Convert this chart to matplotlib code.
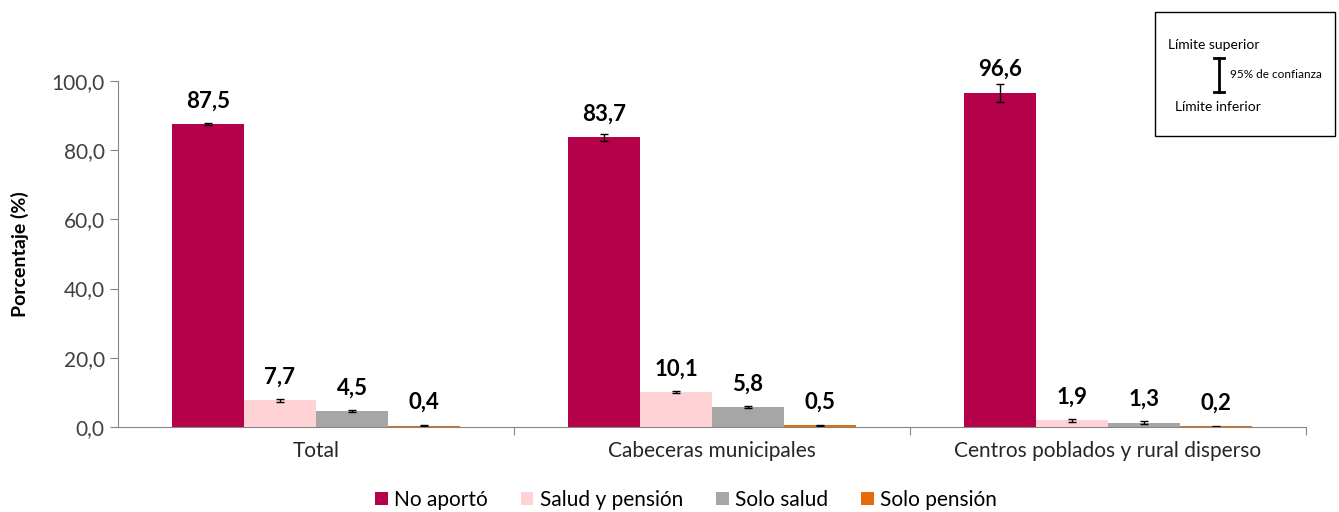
import numpy as np
import matplotlib.pyplot as plt
from matplotlib.patches import Rectangle

plt.rcParams['font.family'] = ['Lato', 'DejaVu Sans']

categorias = ['Total', 'Cabeceras municipales', 'Centros poblados y rural disperso']
series = ['No aportó', 'Salud y pensión', 'Solo salud', 'Solo pensión']
colores = ['#b5004a', '#ffd3d6', '#a6a6a6', '#e46c0a']

no_aporto = [87.5, 83.7, 96.6]
salud_pension = [7.7, 10.1, 1.9]
solo_salud = [4.5, 5.8, 1.3]
solo_pension = [0.4, 0.5, 0.2]

err_no_aporto = [0.3, 1.0, 2.6]
err_salud_pension = [0.4, 0.4, 0.4]
err_solo_salud = [0.3, 0.4, 0.3]
err_solo_pension = [0.1, 0.1, 0.1]

valores = [no_aporto, salud_pension, solo_salud, solo_pension]
errores = [err_no_aporto, err_salud_pension, err_solo_salud, err_solo_pension]

fig = plt.figure(figsize=(13.39, 5.12), dpi=100)
ax = fig.add_axes([0.0881, 0.166, 0.8873, 0.676])

x = np.arange(len(categorias))
w = 0.182
for i, (vals, errs) in enumerate(zip(valores, errores)):
    pos = x + (i - 1.5) * w
    ax.bar(pos, vals, w, color=colores[i], label=series[i],
           yerr=errs, capsize=3, error_kw=dict(elinewidth=1, ecolor='black', capthick=1))
    for p, v in zip(pos, vals):
        ax.annotate(f'{v:.1f}'.replace('.', ','), (p, v), xytext=(0, 9),
                    textcoords='offset points', ha='center', va='bottom',
                    fontsize=16, fontweight='bold')

ax.set_xlim(-0.5, 2.5)
ax.set_ylim(0, 100)
ax.set_yticks([0, 20, 40, 60, 80, 100])
ax.set_yticklabels([f'{t:.1f}'.replace('.', ',') for t in [0, 20, 40, 60, 80, 100]],
                   fontsize=15, color='#404040')
ax.set_xticks([0.5, 1.5, 2.5], minor=False)
ax.set_xticklabels([])
ax.set_xticks(x, minor=True)
ax.set_xticklabels(categorias, minor=True, fontsize=15, color='#262626')
ax.tick_params(axis='x', which='minor', length=0, pad=10)
ax.tick_params(axis='x', which='major', length=6, color='#868686')
ax.tick_params(axis='y', length=6, color='#868686')
ax.set_ylabel('Porcentaje (%)', fontsize=14, fontweight='bold', labelpad=16)
for s in ['top', 'right']:
    ax.spines[s].set_visible(False)
for s in ['left', 'bottom']:
    ax.spines[s].set_color('#868686')

fig.legend(*ax.get_legend_handles_labels(), loc='center',
           bbox_to_anchor=(686 / 1339, 1 - 500 / 512), ncol=4, frameon=False,
           fontsize=15, handlelength=0.6, handleheight=0.6, handletextpad=0.3,
           columnspacing=1.6, borderpad=0)

# cuadro de límites de confianza
fig.patches.append(Rectangle((1155 / 1339, 1 - 136 / 512), 180 / 1339, 124 / 512,
                             transform=fig.transFigure, fill=False, edgecolor='black', lw=1))
fig.text(1168 / 1339, 1 - 45 / 512, 'Límite superior', fontsize=10, va='center')
fig.text(1175 / 1339, 1 - 107 / 512, 'Límite inferior', fontsize=10, va='center')
fig.text(1230 / 1339, 1 - 75 / 512, '95% de confianza', fontsize=8.5, va='center')
fig.lines.append(plt.Line2D([1219 / 1339] * 2, [1 - 58 / 512, 1 - 92 / 512],
                            transform=fig.transFigure, color='black', lw=2))
for yy in [58, 92]:
    fig.lines.append(plt.Line2D([1214 / 1339, 1224 / 1339], [1 - yy / 512] * 2,
                                transform=fig.transFigure, color='black', lw=2))

fig.savefig('out.png', dpi=100)
